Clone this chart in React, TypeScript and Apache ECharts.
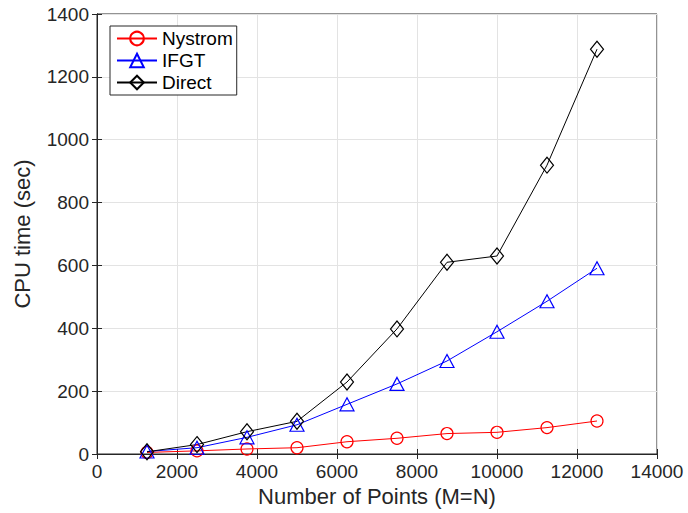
import React, { useEffect, useRef } from "react";
import * as echarts from "echarts";

const xValues = [1250, 2500, 3750, 5000, 6250, 7500, 8750, 10000, 11250, 12500];
const nystrom = [5, 10, 16, 20, 39, 50, 65, 69, 84, 105];
const ifgt = [8, 20, 53, 93, 158, 223, 296, 389, 486, 591];
const direct = [7, 30, 71, 104, 229, 398, 610, 630, 919, 1288];

const FONT = "'Liberation Sans', Arial, Helvetica, sans-serif";
const TXT = "#262626";

function pairs(vals: number[]) {
  return xValues.map((x, i) => [x, vals[i]]);
}

export default function App() {
  const ref = useRef<HTMLDivElement>(null);
  useEffect(() => {
    document.body.style.margin = "0";
    if (!ref.current) return;
    const chart = echarts.init(ref.current, undefined, { renderer: "svg" });
    const tickStyle = { show: true, inside: true, length: 5, lineStyle: { color: TXT, width: 1 } };
    const mk = (name: string, data: number[], color: string, symbol: string, size: any) => ({
      name,
      type: "line",
      data: pairs(data),
      symbol,
      symbolSize: size,
      showSymbol: true,
      lineStyle: { color, width: 1 },
      itemStyle: { color: "rgba(255,255,255,0)", borderColor: color, borderWidth: 1.2 },
      emphasis: { disabled: true },
    });
    chart.setOption({
      animation: false,
      textStyle: { fontFamily: FONT },
      grid: { left: 97, right: 31, top: 14, bottom: 59, show: true, borderColor: TXT, borderWidth: 1, backgroundColor: "#fff" },
      legend: {
        orient: "vertical",
        left: 110,
        top: 26,
        backgroundColor: "#fff",
        borderColor: TXT,
        borderWidth: 1,
        padding: [3, 4, 3, 6],
        itemGap: 3,
        itemWidth: 40,
        itemHeight: 17,
        textStyle: { fontSize: 19, color: "#000", fontFamily: FONT },
        data: ["Nystrom", "IFGT", "Direct"],
      },
      xAxis: [
        {
          type: "value",
          min: 0,
          max: 14000,
          interval: 2000,
          name: "Number of Points (M=N)",
          nameLocation: "middle",
          nameGap: 31,
          nameTextStyle: { fontSize: 22, color: TXT, fontFamily: FONT },
          axisLine: { show: true, lineStyle: { color: TXT } },
          axisTick: tickStyle,
          axisLabel: { fontSize: 19, color: TXT, margin: 8, fontFamily: FONT, formatter: (v: number) => String(v) },
          splitLine: { show: true, lineStyle: { color: "#e3e3e3", width: 1 } },
        },
        {
          type: "value",
          position: "top",
          min: 0,
          max: 14000,
          interval: 2000,
          axisLine: { show: true, lineStyle: { color: TXT } },
          axisTick: tickStyle,
          axisLabel: { show: false },
          splitLine: { show: false },
        },
      ],
      yAxis: [
        {
          type: "value",
          min: 0,
          max: 1400,
          interval: 200,
          name: "CPU time (sec)",
          nameLocation: "middle",
          nameGap: 64,
          nameTextStyle: { fontSize: 22, color: TXT, fontFamily: FONT },
          axisLine: { show: true, lineStyle: { color: TXT } },
          axisTick: tickStyle,
          axisLabel: { fontSize: 19, color: TXT, margin: 8, fontFamily: FONT, formatter: (v: number) => String(v) },
          splitLine: { show: true, lineStyle: { color: "#e3e3e3", width: 1 } },
        },
        {
          type: "value",
          position: "right",
          min: 0,
          max: 1400,
          interval: 200,
          axisLine: { show: true, lineStyle: { color: TXT } },
          axisTick: tickStyle,
          axisLabel: { show: false },
          splitLine: { show: false },
        },
      ],
      series: [
        mk("Nystrom", nystrom, "#ff0000", "circle", 12),
        mk("IFGT", ifgt, "#0000ff", "triangle", [14, 13]),
        mk("Direct", direct, "#000000", "diamond", [13, 16]),
      ],
    });
    return () => chart.dispose();
  }, []);
  return <div ref={ref} style={{ width: 688, height: 513 }} />;
}
